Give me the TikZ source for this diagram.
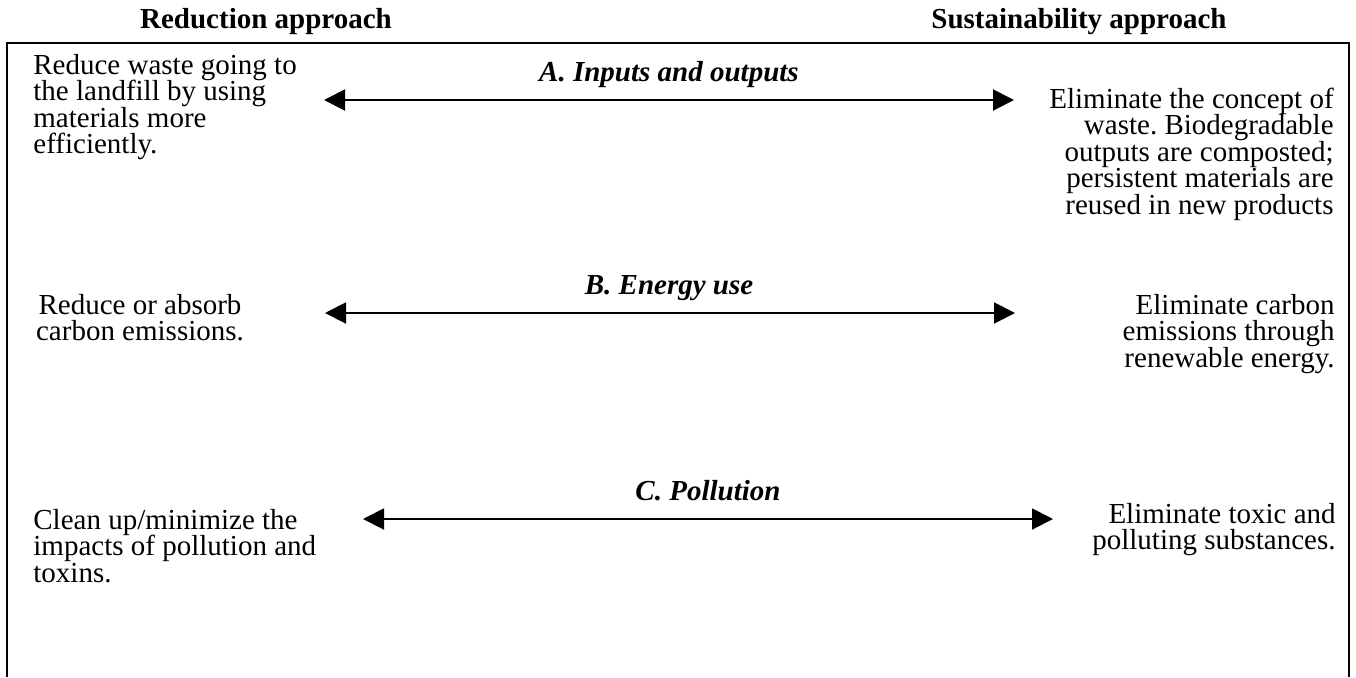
\documentclass[tikz,border=0pt]{standalone}
\usepackage{fontspec}
\setmainfont{Liberation Serif}
\usetikzlibrary{arrows.meta}
\frenchspacing
\newcommand\LftLines[1]{\vtop{\baselineskip=13.3pt\lineskiplimit=-20pt\halign{##\hfil\cr#1\crcr}}}
\newcommand\RgtLines[1]{\vtop{\baselineskip=13.3pt\lineskiplimit=-20pt\halign{\hfil##\cr#1\crcr}}}
\newcommand\CtrLines[1]{\vtop{\baselineskip=13.3pt\lineskiplimit=-20pt\halign{\hfil##\hfil\cr#1\crcr}}}
\begin{document}
\begin{tikzpicture}[x=0.5pt,y=-0.5pt,
  txt/.style={inner sep=0pt, font=\fontsize{14.5}{13.3}\selectfont\frenchspacing},
  head/.style={txt, anchor=base, font=\fontsize{14.5}{13.3}\selectfont\bfseries},
  ttl/.style={txt, anchor=base, font=\fontsize{14.5}{13.3}\selectfont\bfseries\itshape},
  biarrow/.style={line width=1pt, {Triangle[length=10.5pt,width=10.5pt]}-{Triangle[length=10.5pt,width=10.5pt]}},
  frame/.style={line width=1.25pt}]
\useasboundingbox (0,0) rectangle (1356,677);
\fill[white] (0,0) rectangle (1356,677);

% headers
\node[head] (hL) at (266,28) {Reduction approach};
\node[head] (hR) at (1079,28) {Sustainability approach};

% frame (open at the bottom)
\coordinate (fBL) at (7,677);
\coordinate (fTL) at (7,43);
\coordinate (fTR) at (1349,43);
\coordinate (fBR) at (1349,677);
\draw[frame] (fBL) -- (fTL) -- (fTR) -- (fBR);

% titles
\node[ttl] (tA) at (669,81) {A. Inputs and outputs};
\node[ttl] (tB) at (669,294) {B. Energy use};
\node[ttl] (tC) at (708,500) {C. Pollution};

% left texts
\node[txt, anchor=base west] (lA) at (33,74) {\LftLines{Reduce waste going to\cr the landfill by using\cr materials more\cr efficiently.}};
\node[txt, anchor=base] (lB) at (140,314) {\CtrLines{Reduce or absorb\cr carbon emissions.}};
\node[txt, anchor=base west] (lC) at (33,529) {\LftLines{Clean up/minimize the\cr impacts of pollution and\cr toxins.}};

% right texts
\node[txt, anchor=base east] (rA) at (1334,108) {\RgtLines{Eliminate the concept of\cr waste. Biodegradable\cr outputs are composted;\cr persistent materials are\cr reused in new products}};
\node[txt, anchor=base east] (rB) at (1335,314) {\RgtLines{Eliminate carbon\cr emissions through\cr renewable energy.}};
\node[txt, anchor=base east] (rC) at (1336,523) {\RgtLines{Eliminate toxic and\cr polluting substances.}};

% arrow end points
\coordinate (aAl) at (324,100);
\coordinate (aAr) at (1014,100);
\coordinate (aBl) at (325,313);
\coordinate (aBr) at (1015,313);
\coordinate (aCl) at (363,519);
\coordinate (aCr) at (1053,519);
\draw[biarrow] (aAl) -- (aAr);
\draw[biarrow] (aBl) -- (aBr);
\draw[biarrow] (aCl) -- (aCr);
\end{tikzpicture}
\end{document}
